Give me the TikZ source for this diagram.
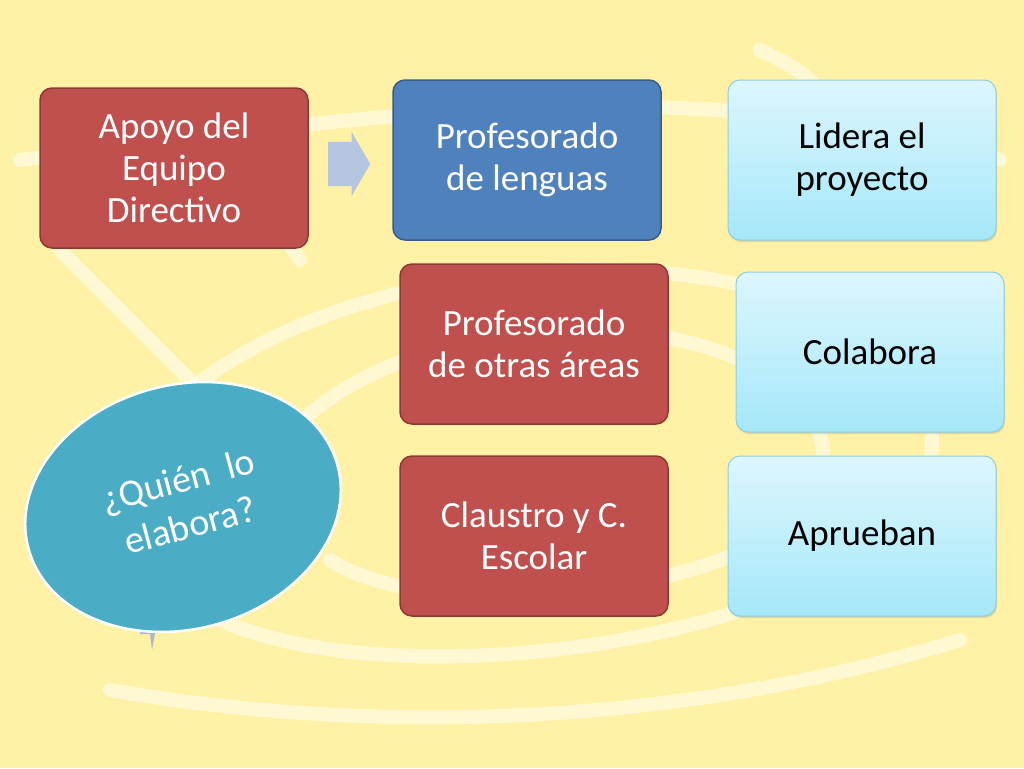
\documentclass[tikz,border=0pt]{standalone}
\usepackage{fontspec}
\setmainfont{Carlito}
\usetikzlibrary{shapes.arrows,shadows}
\definecolor{fondo}{HTML}{FFF2A6}
\definecolor{rojo}{HTML}{C0504D}
\definecolor{rojoborde}{HTML}{8C3836}
\definecolor{azul}{HTML}{4F81BD}
\definecolor{azulborde}{HTML}{385D8A}
\definecolor{celesteA}{HTML}{DDF6FD}
\definecolor{celesteB}{HTML}{A5E8FA}
\definecolor{celesteborde}{HTML}{8CCFDF}
\definecolor{turquesa}{HTML}{4BACC6}
\definecolor{flecha}{HTML}{B4C5E0}
\tikzset{
  caja/.style={rectangle, rounded corners=12pt, minimum width=268pt, minimum height=160pt,
    align=center, font=\fontsize{37}{42}\selectfont, line width=1.5pt, inner sep=2pt},
  cajaroja/.style={caja, fill=rojo, draw=rojoborde, text=white},
  cajaazul/.style={caja, fill=azul, draw=azulborde, text=white},
  cajaceleste/.style={caja, top color=celesteA, bottom color=celesteB, draw=celesteborde,
    line width=1pt, text=black, drop shadow={shadow xshift=1pt, shadow yshift=-2pt, opacity=0.25}},
  linea/.style={text=white, rotate=15, font=\fontsize{38}{44}\selectfont, inner sep=0pt},
  trazo/.style={white, line width=14pt, opacity=0.5, line cap=round}
}
\begin{document}
\begin{tikzpicture}[x=1pt, y=-1pt]
    \fill[fondo] (0,0) rectangle (1024,768);
    \useasboundingbox (0,0) rectangle (1024,768);

    % fondo de trazos
    \draw[trazo] (140,560) .. controls (60,420) and (300,280) .. (560,270)
      .. controls (860,260) and (1000,400) .. (900,520)
      .. controls (800,640) and (400,700) .. (220,620);
    \draw[trazo] (300,560) .. controls (180,460) and (380,320) .. (600,330)
      .. controls (800,340) and (880,450) .. (780,530)
      .. controls (680,600) and (420,620) .. (330,560);
    \draw[trazo] (60,250) .. controls (130,320) .. (230,420);
    \draw[trazo] (20,160) .. controls (400,110) and (700,70) .. (1000,160);
    \draw[trazo] (250,140) .. controls (260,200) .. (300,260);
    \draw[trazo] (760,50) .. controls (800,70) .. (830,100);
    \draw[trazo] (110,690) .. controls (400,740) and (700,720) .. (960,640);

    % cajas
    \node[cajaroja] (apoyo) at (174,168) {Apoyo del\\Equipo\\Directivo};
    \node[cajaazul] (lenguas) at (527,160) {Profesorado\\de lenguas};
    \node[cajaceleste] (lidera) at (862,160) {Lidera el\\proyecto};
    \node[cajaroja] (otras) at (534,344) {Profesorado\\de otras áreas};
    \node[cajaceleste] (colabora) at (870,352) {Colabora};
    \node[cajaroja] (claustro) at (534,536) {Claustro y C.\\Escolar};
    \node[cajaceleste] (aprueban) at (862,536) {Aprueban};

    \node[single arrow, fill=flecha, inner xsep=0pt, inner ysep=22pt, minimum height=42pt,
      single arrow head extend=10pt, single arrow tip angle=120, anchor=west] (paso) at (328,164) {};

    % pregunta
    \fill[flecha!80!gray] (140,628) -- (156,628) -- (152,650) -- (150,634) -- (140,634) -- cycle;
    \draw[fill=turquesa, draw=white, line width=2.5pt, rotate around={15:(183,507)}]
      (183,507) ellipse (160 and 122);
    \node[linea] (quien) at (179,483) {¿Quién~ lo};
    \node[linea] (elabora) at (190,525) {elabora?};
\end{tikzpicture}
\end{document}
